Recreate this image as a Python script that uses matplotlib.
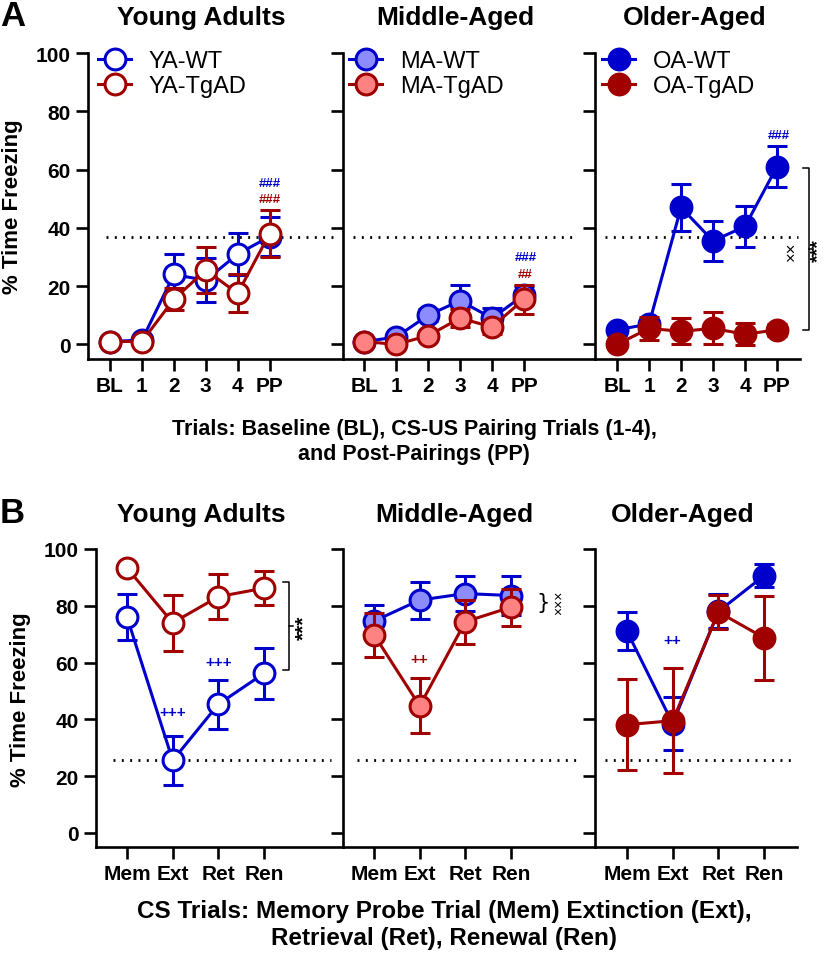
import matplotlib.pyplot as plt

plt.rcParams['font.family'] = ['Liberation Sans', 'DejaVu Sans']

BLUE = '#0000CC'
RED = '#A00000'
LIGHT_BLUE = '#8C8CFF'
SALMON = '#FF8282'

# ---- data ----
trials_a = ['BL', '1', '2', '3', '4', 'PP']
trials_b = ['Mem', 'Ext', 'Ret', 'Ren']

# Panel A: acquisition
ya_wt_a = [1, 1.5, 24, 22, 31, 37]
ya_wt_a_sem = [0.5, 0.5, 7, 7.5, 7.2, 6.6]
ya_tg_a = [1, 1, 15.5, 25.5, 17.5, 38]
ya_tg_a_sem = [0.3, 0.3, 3.7, 8, 6.5, 8]

ma_wt_a = [1, 2.5, 10, 15, 9, 17]
ma_wt_a_sem = [0.5, 1, 2, 5.5, 3.5, 3.2]
ma_tg_a = [1, 0, 3, 9, 6, 15.5]
ma_tg_a_sem = [0.5, 0.5, 1, 3, 2.5, 4.9]

oa_wt_a = [5, 7, 47, 35.5, 40.5, 61]
oa_wt_a_sem = [1, 1.5, 8, 7, 7, 7]
oa_tg_a = [0, 5.5, 4.5, 5.5, 3.5, 5]
oa_tg_a_sem = [0.5, 4, 4.5, 5.5, 3.8, 2]

# Panel B: memory / extinction / retrieval / renewal
ya_wt_b = [76, 25.5, 45.3, 56.2]
ya_wt_b_sem = [8, 8.5, 8.6, 9]
ya_tg_b = [93.3, 74, 83.2, 86.2]
ya_tg_b_sem = [1, 9.8, 8, 6]

ma_wt_b = [74.6, 82, 84.3, 83.6]
ma_wt_b_sem = [5.8, 6.5, 6.3, 7]
ma_tg_b = [69.8, 44.7, 74.4, 79.5]
ma_tg_b_sem = [7.7, 9.7, 7.7, 6.5]

oa_wt_b = [71, 38.5, 78, 90.6]
oa_wt_b_sem = [6.7, 9.4, 6, 4.1]
oa_tg_b = [38.1, 39.5, 77.8, 68.7]
oa_tg_b_sem = [16.1, 18.5, 6, 14.7]

baseline_a = 37     # dotted reference lines
baseline_b = 25.5

W, H = 828, 954
fig = plt.figure(figsize=(W / 100, H / 100), dpi=100)


def px_axes(x0, x1, ytop, ybot):
    # axes placed by pixel coordinates of the reference
    return fig.add_axes([x0 / W, 1 - ybot / H, (x1 - x0) / W, (ybot - ytop) / H])


def style(ax, xlim, labels, first):
    for s in ['top', 'right']:
        ax.spines[s].set_visible(False)
    for s in ['left', 'bottom']:
        ax.spines[s].set_linewidth(1.9)
    ax.set_ylim(-5, 100)
    ax.set_xlim(*xlim)
    ax.set_yticks([0, 20, 40, 60, 80, 100])
    ax.set_xticks(range(len(labels)))
    ax.set_xticklabels(labels, fontsize=15, fontweight='bold')
    ax.tick_params(direction='out', length=8.5, width=1.9, pad=4)
    if first:
        ax.set_yticklabels(['0', '20', '40', '60', '80', '100'],
                           fontsize=15, fontweight='bold')
    else:
        ax.set_yticklabels([])


def series(ax, mean, sem, edge, face, z, label):
    x = range(len(mean))
    ax.errorbar(x, mean, yerr=sem, fmt='none', ecolor=edge, elinewidth=2.2,
                capsize=7.5, capthick=2.2, zorder=z, clip_on=False)
    ln, = ax.plot(x, mean, color=edge, lw=2.2, marker='o', ms=15,
                  mfc=face, mec=edge, mew=2.2, zorder=z + 0.5, clip_on=False,
                  label=label)
    return ln


def legend(ax, bx):
    ax.legend(loc='upper left', bbox_to_anchor=(bx, 1.01), frameon=False,
              fontsize=17, handlelength=1.4, handletextpad=0.75,
              labelspacing=0.12, borderpad=0, borderaxespad=0)


def dotted(ax, y, x0, x1):
    ax.axhline(y, x0, x1, color='black', lw=2, linestyle=(0, (0.7, 2.3)), zorder=1)


def mark(ax, x, y, s, color, size=9.5):
    ax.text(x, y, s, color=color, fontsize=size, fontweight='bold',
            ha='center', va='center', zorder=6)


# ---------------- Panel A ----------------
axA = [px_axes(88, 343, 54, 360), px_axes(343, 595, 54, 360), px_axes(595, 800, 54, 360)]
xlimA = [(-0.69, 7.3), (-0.66, 7.22), (-0.69, 5.72)]
for i, ax in enumerate(axA):
    style(ax, xlimA[i], trials_a, i == 0)

series(axA[0], ya_wt_a, ya_wt_a_sem, BLUE, 'white', 2, 'YA-WT')
series(axA[0], ya_tg_a, ya_tg_a_sem, RED, 'white', 3, 'YA-TgAD')
series(axA[1], ma_wt_a, ma_wt_a_sem, BLUE, LIGHT_BLUE, 2, 'MA-WT')
series(axA[1], ma_tg_a, ma_tg_a_sem, RED, SALMON, 3, 'MA-TgAD')
series(axA[2], oa_wt_a, oa_wt_a_sem, BLUE, BLUE, 2, 'OA-WT')
series(axA[2], oa_tg_a, oa_tg_a_sem, RED, RED, 3, 'OA-TgAD')

legend(axA[0], 0.04)
legend(axA[1], 0.025)
legend(axA[2], 0.035)

dotted(axA[0], baseline_a, 0.07, 0.96)
dotted(axA[1], baseline_a, 0.04, 0.91)
dotted(axA[2], baseline_a, 0.05, 0.99)

mark(axA[0], 5, 55.5, '###', BLUE)
mark(axA[0], 5, 50, '###', RED)
mark(axA[1], 5.05, 30, '###', BLUE)
mark(axA[1], 5.05, 24.3, '##', RED)
mark(axA[2], 5.05, 72, '###', BLUE)

# bracket WT vs TgAD in older-aged panel
axA[2].plot([5.81, 6.0, 6.0, 5.81], [60.5, 60.5, 4.9, 4.9], color='black', lw=1.1, clip_on=False)
axA[2].plot([6.0, 6.12], [32.7, 32.7], color='black', lw=1.1, clip_on=False)
axA[2].text(6.3, 32.7, '***', rotation=90, fontsize=14, fontweight='bold',
            ha='center', va='center')
axA[2].text(5.45, 32.2, '××', rotation=90, fontsize=12, ha='center', va='center')

# ---------------- Panel B ----------------
axB = [px_axes(96, 343, 550, 848), px_axes(343, 595, 550, 848), px_axes(595, 797, 550, 848)]
xlimB = [(-0.68, 4.73), (-0.68, 4.84), (-0.70, 3.72)]
for i, ax in enumerate(axB):
    style(ax, xlimB[i], trials_b, i == 0)

series(axB[0], ya_wt_b, ya_wt_b_sem, BLUE, 'white', 2, 'YA-WT')
series(axB[0], ya_tg_b, ya_tg_b_sem, RED, 'white', 3, 'YA-TgAD')
series(axB[1], ma_wt_b, ma_wt_b_sem, BLUE, LIGHT_BLUE, 2, 'MA-WT')
series(axB[1], ma_tg_b, ma_tg_b_sem, RED, SALMON, 3, 'MA-TgAD')
series(axB[2], oa_wt_b, oa_wt_b_sem, BLUE, BLUE, 2, 'OA-WT')
series(axB[2], oa_tg_b, oa_tg_b_sem, RED, RED, 3, 'OA-TgAD')

dotted(axB[0], baseline_b, 0.07, 0.95)
dotted(axB[1], baseline_b, 0.055, 0.93)
dotted(axB[2], baseline_b, 0.05, 0.99)

mark(axB[0], 1, 42.6, '+++', BLUE, 11)
mark(axB[0], 2, 60.2, '+++', BLUE, 11)
mark(axB[1], 1, 61.2, '++', RED, 11)
mark(axB[2], 1, 68, '++', BLUE, 11)

# bracket in young adults
axB[0].plot([3.42, 3.55, 3.55, 3.42], [88.3, 88.3, 57.2, 57.2], color='black', lw=1.1, clip_on=False)
axB[0].plot([3.55, 3.63], [72.7, 72.7], color='black', lw=1.1, clip_on=False)
axB[0].text(3.87, 72.7, '***', rotation=90, fontsize=15, fontweight='bold',
            ha='center', va='center')
# brace in middle-aged
axB[1].text(3.7, 81.5, '}', fontsize=15, family='DejaVu Sans', ha='center', va='center')
axB[1].text(4.05, 81.5, '×××', rotation=90, fontsize=10, ha='center', va='center')

# ---------------- text around the panels ----------------
fig.text(0 / W, 1 - 16 / H, 'A', fontsize=25, fontweight='bold', ha='left', va='center')
fig.text(0 / W, 1 - 514 / H, 'B', fontsize=25, fontweight='bold', ha='left', va='center')

for xc, t in zip([201, 455, 695], ['Young Adults', 'Middle-Aged', 'Older-Aged']):
    fig.text(xc / W, 1 - 18 / H, t, fontsize=19, fontweight='bold', ha='center', va='center')
for xc, t in zip([201, 454, 683], ['Young Adults', 'Middle-Aged', 'Older-Aged']):
    fig.text(xc / W, 1 - 515 / H, t, fontsize=19, fontweight='bold', ha='center', va='center')

fig.text(13 / W, 1 - 207 / H, '% Time Freezing', rotation=90, fontsize=16,
         fontweight='bold', ha='center', va='center')
fig.text(21 / W, 1 - 700 / H, '% Time Freezing', rotation=90, fontsize=16,
         fontweight='bold', ha='center', va='center')

fig.text(414 / W, 1 - 442 / H,
         'Trials: Baseline (BL), CS-US Pairing Trials (1-4),\nand Post-Pairings (PP)',
         fontsize=15.5, fontweight='bold', ha='center', va='center', linespacing=1.3)
fig.text(444 / W, 1 - 925 / H,
         'CS Trials: Memory Probe Trial (Mem) Extinction (Ext),\nRetrieval (Ret), Renewal (Ren)',
         fontsize=17.5, fontweight='bold', ha='center', va='center', linespacing=1.2)

fig.savefig('out.png', dpi=100)
